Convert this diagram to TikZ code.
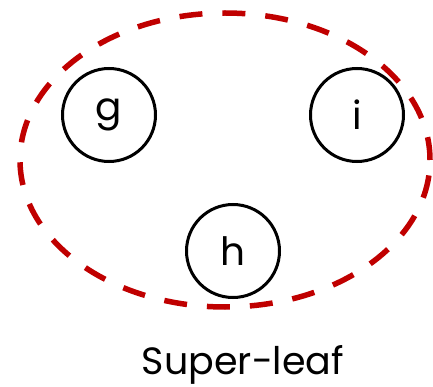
\documentclass[tikz,border=0pt]{standalone}
\usepackage{fontspec}
\setmainfont{Poppins}
\usepackage{xcolor}
\usetikzlibrary{shapes.geometric, positioning}
\definecolor{leafred}{RGB}{192,0,0}
\tikzset{
  vert/.style={circle, draw=black, line width=3pt, minimum size=93pt, inner sep=0pt, font=\fontsize{39}{44}\selectfont},
  superleaf/.style={ellipse, draw=leafred, line width=5.5pt, dash pattern=on 23pt off 20pt, minimum width=410pt, minimum height=294pt},
  caption/.style={font=\fontsize{38}{44}\selectfont, inner sep=0pt},
}
\begin{document}
\begin{tikzpicture}[x=1pt, y=-1pt]
  \useasboundingbox (0,0) rectangle (433,387);
  \node[superleaf] (sl) at (225,160) {};
  \node[vert] (g) at (109,115) {g};
  \node[vert] (i) at (357,115) {i};
  \node[vert] (h) at (233,251) {h};
  \node[caption, anchor=base] (lbl) at (243,374) {Super-leaf};
\end{tikzpicture}
\end{document}
